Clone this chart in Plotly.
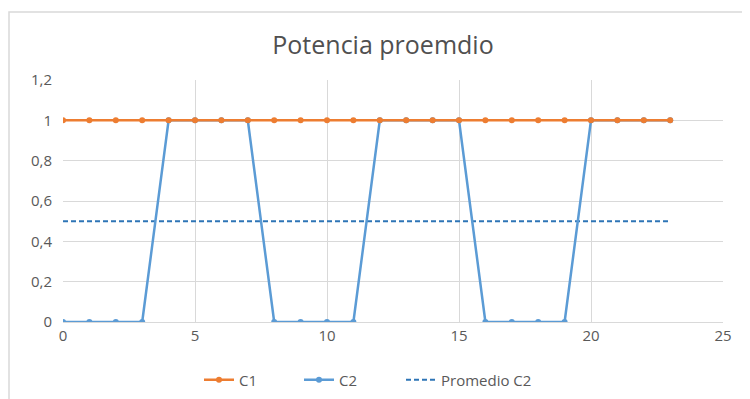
import plotly.graph_objects as go

x = list(range(24))
c1 = [1] * 24
c2 = [0, 0, 0, 0, 1, 1, 1, 1, 0, 0, 0, 0, 1, 1, 1, 1, 0, 0, 0, 0, 1, 1, 1, 1]
promedio_c2 = [0.5] * 24
y_tick_vals = [0, 0.2, 0.4, 0.6, 0.8, 1, 1.2]
y_tick_text = ["0", "0,2", "0,4", "0,6", "0,8", "1", "1,2"]
x_tick_vals = [0, 5, 10, 15, 20, 25]

fig = go.Figure()
fig.add_trace(go.Scatter(x=x, y=promedio_c2, name="Promedio C2", mode="lines",
                         line=dict(color="#2E75B6", width=2, dash="5px,3px"), legend="legend2"))
fig.add_trace(go.Scatter(x=x, y=c2, name="C2", mode="lines+markers",
                         line=dict(color="#5B9BD5", width=2.5),
                         marker=dict(size=6, color="#5B9BD5"), legendrank=2))
fig.add_trace(go.Scatter(x=x, y=c1, name="C1", mode="lines+markers",
                         line=dict(color="#ED7D31", width=2.5),
                         marker=dict(size=6, color="#ED7D31"), legendrank=1))

OFF = 8  # page body margin offset
W, H = 750, 399
l = 63 - OFF
t = 80 - OFF
r = W - (723 - OFF)
b = H - (322 - OFF)
pw, ph = W - l - r, H - t - b
leg_y = -((380 - OFF) - (H - b)) / ph

fig.update_layout(
    width=W, height=H,
    margin=dict(l=l, r=r, t=t, b=b, autoexpand=False),
    paper_bgcolor="white", plot_bgcolor="white",
    font=dict(family="Open Sans", color="#595959", size=15),
    title=dict(text="Potencia proemdio", x=(383 - OFF) / W, xanchor="center",
               y=1 - (45 - OFF) / H, yanchor="middle",
               font=dict(size=25, color="#505050")),
    showlegend=True,
    legend=dict(orientation="h", x=(207 - OFF - 8 - l) / pw, xanchor="left",
                y=leg_y, yanchor="middle",
                font=dict(size=15, color="#595959"), traceorder="normal",
                entrywidth=55, entrywidthmode="pixels"),
    legend2=dict(orientation="h", x=(409 - OFF - 8 - l) / pw, xanchor="left",
                 y=leg_y, yanchor="middle",
                 font=dict(size=15, color="#595959")),
    xaxis=dict(range=[0, 25], tickvals=x_tick_vals, showgrid=True, gridcolor="#d9d9d9",
               zeroline=False, showline=True, linecolor="#d9d9d9", ticks="", tickfont=dict(size=15),
               automargin=False),
    yaxis=dict(range=[0, 1.2], tickvals=y_tick_vals, ticktext=y_tick_text, showgrid=True,
               gridcolor="#d9d9d9", zeroline=False, showline=False, ticks="", ticklabelstandoff=10,
               tickfont=dict(size=15), automargin=False),
    shapes=[dict(type="rect", xref="paper", yref="paper",
                 x0=(1 - l) / pw, x1=(W + 5 - l) / pw,
                 y0=-(H + 5 - (H - b)) / ph, y1=1 + (t - (12 - OFF)) / ph,
                 line=dict(color="#d9d9d9", width=1.5), fillcolor="rgba(0,0,0,0)", layer="below")],
)

fig.write_html("out.html")
